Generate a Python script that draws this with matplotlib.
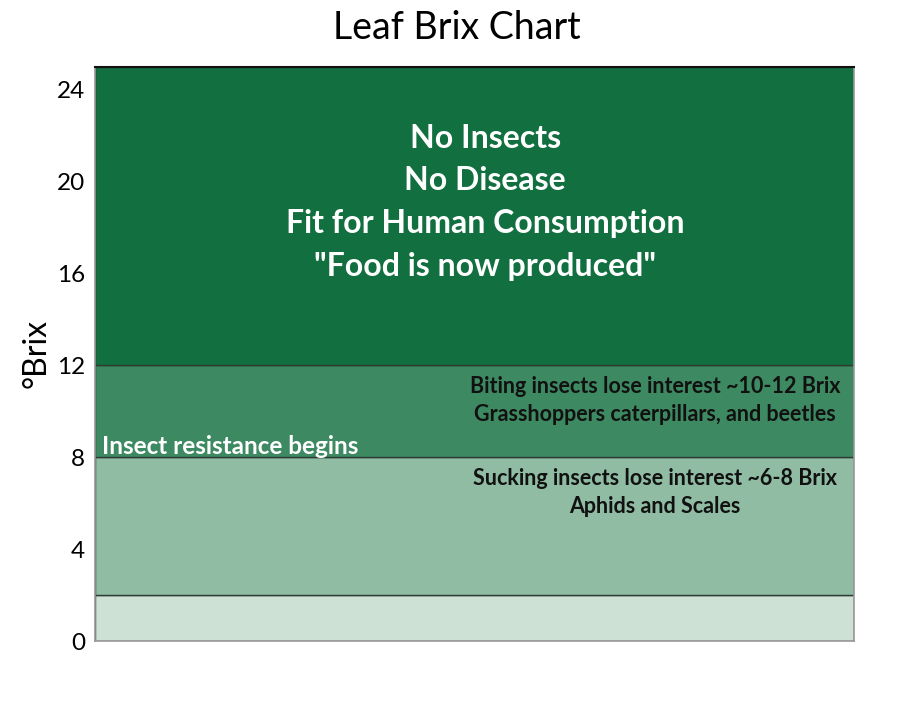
import matplotlib
matplotlib.use("Agg")
import matplotlib.pyplot as plt
from matplotlib.ticker import MultipleLocator

# Data
band_bottoms = [0, 2, 8, 12]
band_heights = [2, 6, 4, 13]
band_colors = ["#cde1d5", "#8fbca3", "#3d8a62", "#126f3f"]
yticks = [0, 4, 8, 12, 16, 20, 24]
top_text = ["No Insects", "No Disease", "Fit for Human Consumption", "\"Food is now produced\""]
biting_text = "Biting insects lose interest ~10-12 Brix\nGrasshoppers caterpillars, and beetles"
sucking_text = "Sucking insects lose interest ~6-8 Brix\nAphids and Scales"
resist_text = "Insect resistance begins"

plt.rcParams['font.family'] = ['Lato', 'DejaVu Sans']

fig = plt.figure(figsize=(9.14, 7.11), dpi=100)
ax = fig.add_axes([95/914, 70/711, (854-95)/914, (641-67)/711])

ax.bar([0.5] * len(band_heights), band_heights, width=1.0, bottom=band_bottoms,
       color=band_colors, edgecolor="#2d3b33", linewidth=1.0, zorder=2)

ax.set_xlim(0, 1)
ax.set_ylim(0, 25)
ax.set_xticks([])
ax.set_yticks(yticks)
ax.yaxis.set_minor_locator(MultipleLocator(2))
ax.tick_params(axis='y', which='major', length=0, labelsize=17.5, pad=7)
ax.tick_params(axis='y', which='minor', length=4, direction='in', color='#6a8a78', width=1)
for s in ['left', 'bottom', 'right']:
    ax.spines[s].set_color('#999999')
    ax.spines[s].set_linewidth(1.2)
ax.spines['top'].set_color('#111111')
ax.spines['top'].set_linewidth(1.5)

ax.set_ylabel("°Brix", fontsize=23, labelpad=4)
fig.text(457/914, 1 - 28/711, "Leaf Brix Chart", ha='center', va='center', fontsize=27)

top_y = [21.9, 20.05, 18.2, 16.3]
for t, y in zip(top_text, top_y):
    ax.text(0.514, y, t, ha='center', va='center', color='white', fontsize=23, fontweight='bold')

ax.text(0.738, 10.47, biting_text, ha='center', va='center', color='#111111',
        fontsize=15.5, fontweight='bold', linespacing=1.45)
ax.text(0.738, 6.47, sucking_text, ha='center', va='center', color='#111111',
        fontsize=15.5, fontweight='bold', linespacing=1.45)
ax.text(0.009, 8.45, resist_text, ha='left', va='center', color='white',
        fontsize=17.5, fontweight='bold')

fig.savefig("out.png", dpi=100)
